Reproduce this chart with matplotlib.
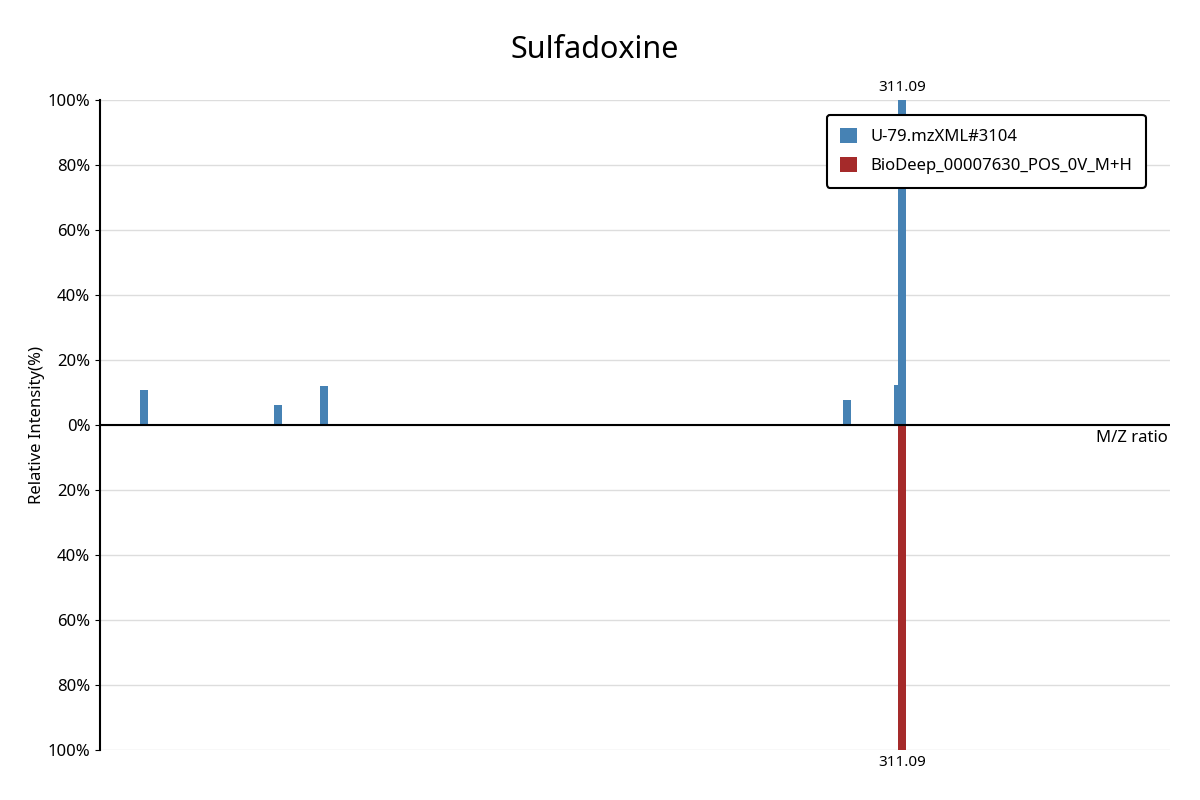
import numpy as np
import matplotlib.pyplot as plt

plt.rcParams['font.family'] = ['Noto Sans', 'DejaVu Sans']

# sample spectrum (top) and library spectrum (bottom)
sample_mz = [92.7, 131.3, 144.5, 295.2, 310.0, 311.09]
sample_int = [10.8, 6.2, 12.0, 7.7, 12.3, 100.0]
ref_mz = [311.09]
ref_int = [100.0]
sample_name = "U-79.mzXML#3104"
ref_name = "BioDeep_00007630_POS_0V_M+H"
title = "Sulfadoxine"

fig = plt.figure(figsize=(12, 8), dpi=100)
ax = fig.add_axes([100/1200, 50/800, 1070/1200, 650/800])

blue = '#4682b4'
red = '#a52a2a'
ax.bar(sample_mz, sample_int, width=2.3, color=blue, label=sample_name, zorder=3)
ax.bar(ref_mz, [-v for v in ref_int], width=2.3, color=red, label=ref_name, zorder=3)

ax.set_xlim(80, 388.3)
ax.set_ylim(-100, 100)
ticks = np.arange(-100, 101, 20)
ax.set_yticks(ticks)
ax.set_yticklabels([f"{abs(t)}%" for t in ticks], fontsize=12)
ax.set_xticks([])
ax.grid(axis='y', color='#dddddd', linewidth=1, zorder=0)
ax.axhline(0, color='black', linewidth=1.5, zorder=4)
for s in ['top', 'right', 'bottom']:
    ax.spines[s].set_visible(False)
ax.spines['left'].set_linewidth(1.5)

# peak labels
ax.text(311.09, 101.5, "311.09", ha='center', va='bottom', fontsize=11)
ax.text(311.09, -101.5, "311.09", ha='center', va='top', fontsize=11)

ax.text(0.998, -1.5, "M/Z ratio", transform=ax.get_yaxis_transform(), ha='right', va='top',
        fontsize=12, fontweight='bold')
ax.set_ylabel("Relative Intensity(%)", fontsize=12, fontweight='bold', labelpad=2)
fig.text(595/1200, 1 - 50/800, title, ha='center', va='center', fontsize=22)

leg = ax.legend(loc='upper right', bbox_to_anchor=(0.985, 0.99), fontsize=12,
                fancybox=True, edgecolor='black', framealpha=1, handlelength=1,
                handleheight=1, borderpad=0.8, labelspacing=0.7)
leg.get_frame().set_linewidth(1.5)

fig.savefig("out.png")
